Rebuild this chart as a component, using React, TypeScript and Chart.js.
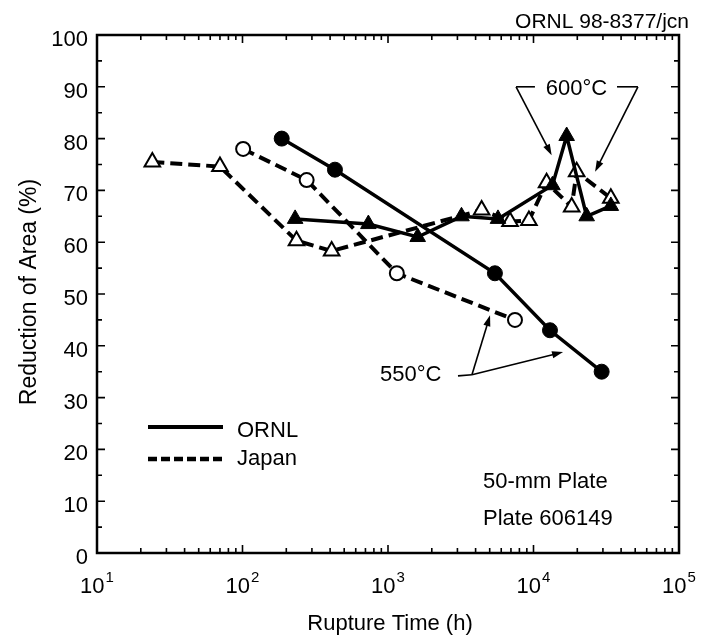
import React, { useEffect, useRef } from 'react';
import { Chart, registerables } from 'chart.js';
Chart.register(...registerables);

// ---------- data ----------
const ornl550Hours = [186, 432, 5430, 12980, 29400];
const ornl550RA = [80, 74, 54, 43, 35];
const japan550Hours = [101, 276, 1150, 7460];
const japan550RA = [78, 72, 54, 45];
const ornl600Hours = [230, 733, 1600, 3200, 5700, 13500, 16900, 23200, 34000];
const ornl600RA = [64.5, 63.5, 61, 65, 64.5, 71, 80.5, 65, 67];
const japan600Hours = [24, 70, 235, 410, 4400, 6900, 9300, 12300, 18300, 19800, 34000];
const japan600RA = [75.5, 74.6, 60.3, 58.3, 66.2, 64, 64.2, 71.5, 66.8, 73.6, 68.5];

const yTickValues = [0, 10, 20, 30, 40, 50, 60, 70, 80, 90, 100];
const yMinorTickValues = [5, 15, 25, 35, 45, 55, 65, 75, 85, 95];
const xDecadeTicks = [10, 100, 1000, 10000, 100000];
const xDecadeExponents = ['1', '2', '3', '4', '5'];
const xMinorMultipliers = [2, 3, 4, 5, 6, 7, 8, 9];

const chartTitle = 'ORNL 98-8377/jcn';
const xTitle = 'Rupture Time (h)';
const yTitle = 'Reduction of Area (%)';
const legendLabels = ['ORNL', 'Japan'];
const noteLines = ['50-mm Plate', 'Plate 606149'];

// annotations in data space (hours, %)
const label600 = { text: '600°C', x: 19750, y: 88.4 };
const bracket600Left = [{ x: 10230, y: 90 }, { x: 7590, y: 90 }, { x: 13330, y: 76.8 }];
const bracket600Right = [{ x: 37500, y: 90 }, { x: 52200, y: 90 }, { x: 26500, y: 73.6 }];
const label550 = { text: '550°C', x: 881, y: 33.2 };
const junction550 = [{ x: 3027, y: 34.2 }, { x: 3776, y: 34.4 }];
const tips550 = [{ x: 5028, y: 45.9 }, { x: 15960, y: 38.8 }];

const FONT = '"Liberation Sans", Arial, Helvetica, sans-serif';

function pts(xs: number[], ys: number[]) {
  return xs.map((x, i) => ({ x, y: ys[i] }));
}

function arrow(ctx: CanvasRenderingContext2D, x1: number, y1: number, x2: number, y2: number) {
  const ang = Math.atan2(y2 - y1, x2 - x1);
  const len = 11, hw = 3.6;
  ctx.beginPath();
  ctx.moveTo(x1, y1);
  ctx.lineTo(x2 - Math.cos(ang) * len * 0.8, y2 - Math.sin(ang) * len * 0.8);
  ctx.stroke();
  ctx.beginPath();
  ctx.moveTo(x2, y2);
  ctx.lineTo(x2 - Math.cos(ang) * len - Math.sin(ang) * hw, y2 - Math.sin(ang) * len + Math.cos(ang) * hw);
  ctx.lineTo(x2 - Math.cos(ang) * len + Math.sin(ang) * hw, y2 - Math.sin(ang) * len - Math.cos(ang) * hw);
  ctx.closePath();
  ctx.fill();
}

const decorPlugin = {
  id: 'decor',
  afterDraw(chart: any) {
    const ctx: CanvasRenderingContext2D = chart.ctx;
    const xs = chart.scales.x;
    const ys = chart.scales.y;
    const { left, right, top, bottom } = chart.chartArea;
    const px = (v: number) => xs.getPixelForValue(v);
    const py = (v: number) => ys.getPixelForValue(v);
    ctx.save();
    ctx.strokeStyle = '#000';
    ctx.fillStyle = '#000';

    // frame
    ctx.lineWidth = 2.5;
    ctx.strokeRect(left, top, right - left, bottom - top);

    // ticks
    ctx.lineWidth = 1.6;
    ctx.beginPath();
    const yt = (v: number, len: number) => {
      const y = py(v);
      ctx.moveTo(left, y); ctx.lineTo(left + len, y);
      ctx.moveTo(right, y); ctx.lineTo(right - len, y);
    };
    yTickValues.forEach((v) => yt(v, 8));
    yMinorTickValues.forEach((v) => yt(v, 5));
    const xt = (v: number, len: number) => {
      const x = px(v);
      ctx.moveTo(x, bottom); ctx.lineTo(x, bottom - len);
      ctx.moveTo(x, top); ctx.lineTo(x, top + len);
    };
    xDecadeTicks.forEach((d, i) => {
      xt(d, 8);
      if (i < xDecadeTicks.length - 1) xMinorMultipliers.forEach((m) => xt(d * m, 5));
    });
    ctx.stroke();

    // y tick labels
    ctx.font = `22px ${FONT}`;
    ctx.textAlign = 'right';
    ctx.textBaseline = 'middle';
    yTickValues.forEach((v) => ctx.fillText(String(v), left - 9, py(v) + 5));

    // x tick labels 10^n
    xDecadeTicks.forEach((d, i) => {
      const x = px(d);
      ctx.font = `22px ${FONT}`;
      const wb = ctx.measureText('10').width;
      ctx.font = `15px ${FONT}`;
      const we = ctx.measureText(xDecadeExponents[i]).width;
      const x0 = x - (wb + we + 1) / 2;
      ctx.textAlign = 'left';
      ctx.textBaseline = 'alphabetic';
      ctx.font = `22px ${FONT}`;
      ctx.fillText('10', x0, bottom + 40);
      ctx.font = `15px ${FONT}`;
      ctx.fillText(xDecadeExponents[i], x0 + wb + 1, bottom + 29);
    });

    // axis titles
    ctx.font = `22px ${FONT}`;
    ctx.textAlign = 'center';
    ctx.textBaseline = 'alphabetic';
    ctx.fillText(xTitle, (left + right) / 2 + 2, bottom + 77);
    ctx.save();
    ctx.translate(left - 67, (top + bottom) / 2 - 2);
    ctx.rotate(-Math.PI / 2);
    ctx.textBaseline = 'middle';
    ctx.font = `23px ${FONT}`;
    ctx.fillText(yTitle, 0, 0);
    ctx.restore();

    // chart title (top right)
    ctx.textAlign = 'right';
    ctx.textBaseline = 'alphabetic';
    ctx.font = `21px ${FONT}`;
    ctx.fillText(chartTitle, right + 10, top - 7);

    // legend
    const lx0 = left + 51, lx1 = left + 126;
    ctx.lineWidth = 4;
    ctx.setLineDash([]);
    ctx.beginPath(); ctx.moveTo(lx0, 427); ctx.lineTo(lx1, 427); ctx.stroke();
    ctx.setLineDash([9, 4]);
    ctx.lineWidth = 4.5;
    ctx.beginPath(); ctx.moveTo(lx0, 459); ctx.lineTo(lx1, 459); ctx.stroke();
    ctx.setLineDash([]);
    ctx.font = `22px ${FONT}`;
    ctx.textAlign = 'left';
    ctx.fillText(legendLabels[0], lx1 + 14, 437);
    ctx.fillText(legendLabels[1], lx1 + 14, 465);

    // notes
    ctx.fillText(noteLines[0], 483, 488);
    ctx.fillText(noteLines[1], 483, 525);

    // 600°C annotation
    ctx.textAlign = 'center';
    ctx.fillText(label600.text, px(label600.x), py(label600.y));
    ctx.lineWidth = 1.6;
    [bracket600Left, bracket600Right].forEach((b) => {
      ctx.beginPath();
      ctx.moveTo(px(b[0].x), py(b[0].y));
      ctx.lineTo(px(b[1].x), py(b[1].y));
      ctx.stroke();
      arrow(ctx, px(b[1].x), py(b[1].y), px(b[2].x), py(b[2].y));
    });

    // 550°C annotation
    ctx.textAlign = 'left';
    ctx.fillText(label550.text, px(label550.x), py(label550.y));
    ctx.beginPath();
    ctx.moveTo(px(junction550[0].x), py(junction550[0].y));
    ctx.lineTo(px(junction550[1].x), py(junction550[1].y));
    ctx.stroke();
    tips550.forEach((t) => arrow(ctx, px(junction550[1].x), py(junction550[1].y), px(t.x), py(t.y)));

    ctx.restore();
  },
};

export default function App() {
  const ref = useRef<HTMLCanvasElement>(null);
  useEffect(() => {
    const canvas = ref.current!;
    const solid = { showLine: true, borderColor: '#000', borderWidth: 3.5, pointBorderColor: '#000', fill: false };
    const dashed = { showLine: true, borderColor: '#000', borderWidth: 4, borderDash: [12, 6], pointBorderColor: '#000', fill: false };
    const chart = new Chart(canvas, {
      type: 'scatter',
      data: {
        datasets: [
          { ...solid, label: 'ORNL 600', data: pts(ornl600Hours, ornl600RA), pointStyle: 'triangle', pointRadius: 9, pointBackgroundColor: '#000', pointBorderWidth: 1, order: 1 },
          { ...solid, label: 'ORNL 550', data: pts(ornl550Hours, ornl550RA), pointStyle: 'circle', pointRadius: 7.5, pointBackgroundColor: '#000', pointBorderWidth: 1, order: 2 },
          { ...dashed, label: 'Japan 600', data: pts(japan600Hours, japan600RA), pointStyle: 'triangle', pointRadius: 9, pointBackgroundColor: '#fff', pointBorderWidth: 2, order: 3 },
          { ...dashed, label: 'Japan 550', data: pts(japan550Hours, japan550RA), pointStyle: 'circle', pointRadius: 7, pointBackgroundColor: '#fff', pointBorderWidth: 2, order: 4 },
        ] as any,
      },
      options: {
        animation: false,
        responsive: false,
        layout: { padding: { left: 97, top: 35, right: 29, bottom: 85 } },
        plugins: { legend: { display: false }, tooltip: { enabled: false } },
        scales: {
          x: { type: 'logarithmic', min: 10, max: 100000, display: false },
          y: { type: 'linear', min: 0, max: 100, display: false },
        },
      } as any,
      plugins: [decorPlugin],
    });
    return () => chart.destroy();
  }, []);
  return (
    <div style={{ position: 'fixed', left: 0, top: 0, width: 708, height: 638, background: '#fff' }}>
      <canvas ref={ref} width={708} height={638} style={{ display: 'block' }} />
    </div>
  );
}
